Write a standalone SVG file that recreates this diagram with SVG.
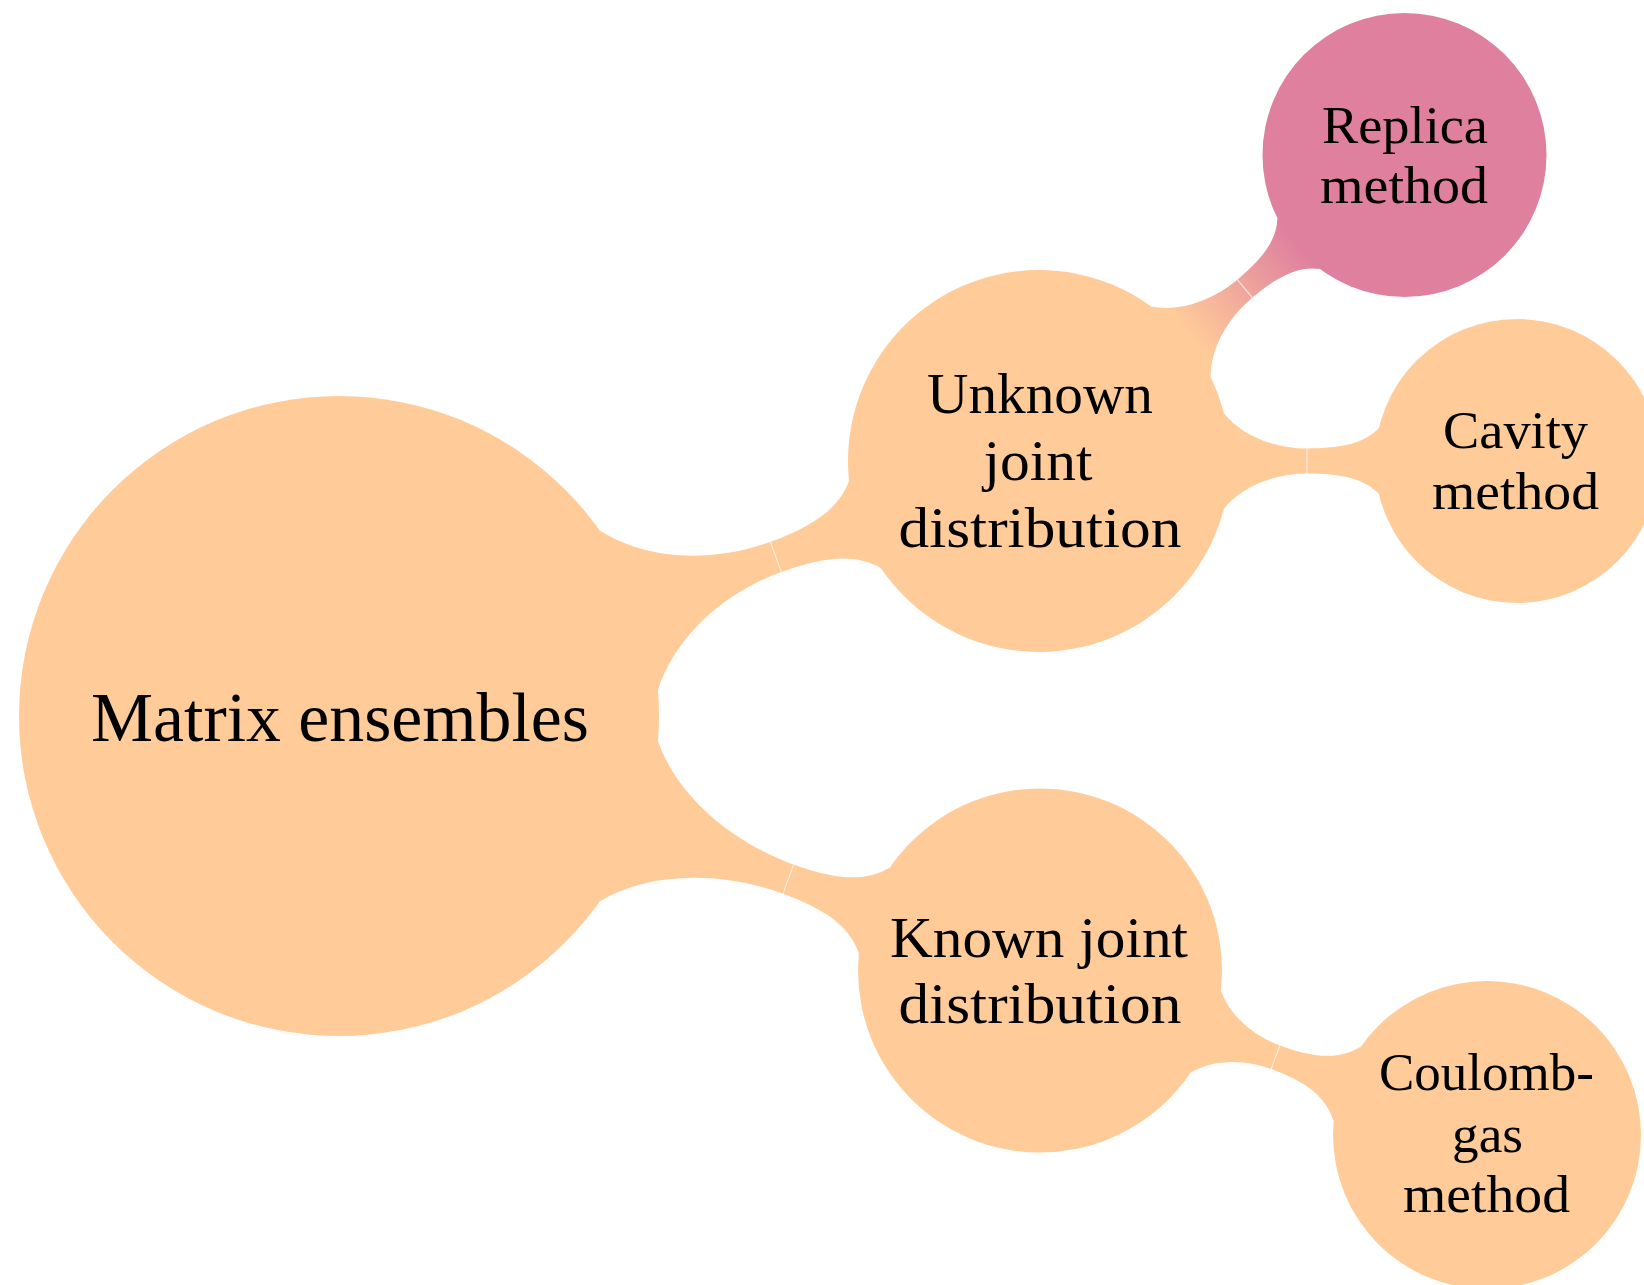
<svg xmlns="http://www.w3.org/2000/svg" width="1644" height="1285" viewBox="0 0 1644 1285">
<defs>
<style>
.c{fill:#FFCC99}
.p{fill:#DF809F}
.j{stroke:#ffffff;stroke-width:1;opacity:0.75;fill:none}
.t{font-family:"Liberation Serif","Times New Roman",serif;fill:#000;text-anchor:middle}
.l0{font-size:70px}
.l1{font-size:57px}
.l2{font-size:53px}
</style>
<linearGradient id="g1" gradientUnits="userSpaceOnUse" x1="195" y1="0" x2="338" y2="0">
<stop offset="0" stop-color="#FFCC99"/>
<stop offset="1" stop-color="#DF809F"/>
</linearGradient>
</defs>
<rect width="1644" height="1285" fill="#ffffff"/>
<g id="connectors">
<g transform="translate(339,716) rotate(-20.01)">
<path class="c" d="M308.5,-85 C339.8,-43.6 399.3,-16 465,-16 C510.7,-16 541.2,-23.8 560.3,-47 L560.3,47 C541.2,23.8 510.7,16 465,16 C399.3,16 339.8,43.6 308.5,85 Z"/>
<line class="j" x1="465" y1="-16" x2="465" y2="16"/>
</g>
<g transform="translate(339,716) rotate(19.95)">
<path class="c" d="M308.5,-85 C342.4,-43.3 406.8,-15.5 478,-15.5 C522,-15.5 551.3,-23 569.6,-45.6 L569.6,45.6 C551.3,23 522,15.5 478,15.5 C406.8,15.5 342.4,43.3 308.5,85 Z"/>
<line class="j" x1="478" y1="-15.5" x2="478" y2="15.5"/>
</g>
<g transform="translate(1039,461) rotate(-39.94)">
<path fill="url(#g1)" d="M185.3,-46.2 C202,-25.5 233.6,-11.7 268.5,-11.7 C302.2,-11.7 324.6,-17 338.6,-33.1 L338.6,33.1 C324.6,17 302.2,11.7 268.5,11.7 C233.6,11.7 202,25.5 185.3,46.2 Z"/>
<line class="j" x1="268.5" y1="-11.7" x2="268.5" y2="11.7"/>
</g>
<g transform="translate(1039,461)">
<path class="c" d="M184.9,-47.8 C201.5,-26.6 233.2,-12.5 268,-12.5 C302.5,-12.5 325.5,-17.6 339.9,-32.9 L339.9,32.9 C325.5,17.6 302.5,12.5 268,12.5 C233.2,12.5 201.5,26.6 184.9,47.8 Z"/>
<line class="j" x1="268" y1="-12.5" x2="268" y2="12.5"/>
</g>
<g transform="translate(1040,970.5) rotate(20.2)">
<path class="c" d="M176.6,-44 C191.5,-25.1 219.8,-12.5 251,-12.5 C287.7,-12.5 312.2,-19.35 327.5,-39.9 L327.5,39.9 C312.2,19.35 287.7,12.5 251,12.5 C219.8,12.5 191.5,25.1 176.6,44 Z"/>
<line class="j" x1="251" y1="-12.5" x2="251" y2="12.5"/>
</g>
</g>
<g id="node-matrix">
<circle class="c" cx="339" cy="716" r="320"/>
<text class="t l0" x="340" y="741" textLength="498" lengthAdjust="spacingAndGlyphs">Matrix ensembles</text>
</g>
<g id="node-unknown">
<circle class="c" cx="1039" cy="461" r="191"/>
<text class="t l1" x="1040" y="413" textLength="226" lengthAdjust="spacingAndGlyphs">Unknown</text>
<text class="t l1" x="1038" y="480" textLength="109" lengthAdjust="spacingAndGlyphs">joint</text>
<text class="t l1" x="1040" y="547" textLength="283" lengthAdjust="spacingAndGlyphs">distribution</text>
</g>
<g id="node-known">
<circle class="c" cx="1040" cy="970.5" r="182"/>
<text class="t l1" x="1039" y="957" textLength="298" lengthAdjust="spacingAndGlyphs">Known joint</text>
<text class="t l1" x="1040" y="1023" textLength="283" lengthAdjust="spacingAndGlyphs">distribution</text>
</g>
<g id="node-replica">
<circle class="p" cx="1404.5" cy="155" r="142"/>
<text class="t l2" x="1405" y="143" textLength="166" lengthAdjust="spacingAndGlyphs">Replica</text>
<text class="t l2" x="1404" y="203" textLength="168" lengthAdjust="spacingAndGlyphs">method</text>
</g>
<g id="node-cavity">
<circle class="c" cx="1517" cy="461" r="142"/>
<text class="t l2" x="1515.5" y="448" textLength="145" lengthAdjust="spacingAndGlyphs">Cavity</text>
<text class="t l2" x="1515.5" y="509" textLength="167" lengthAdjust="spacingAndGlyphs">method</text>
</g>
<g id="node-coulomb">
<circle class="c" cx="1487" cy="1135" r="154"/>
<text class="t l2" x="1486.5" y="1090" textLength="215" lengthAdjust="spacingAndGlyphs">Coulomb-</text>
<text class="t l2" x="1487.5" y="1152" textLength="71" lengthAdjust="spacingAndGlyphs">gas</text>
<text class="t l2" x="1486.5" y="1212" textLength="167" lengthAdjust="spacingAndGlyphs">method</text>
</g>
</svg>
